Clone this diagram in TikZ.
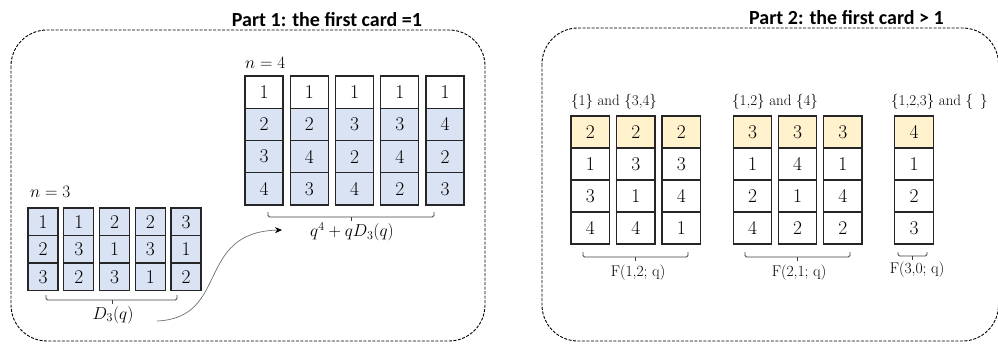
\documentclass[tikz,border=0pt]{standalone}
\usepackage{fontspec}
\newcommand{\cardfont}{\rmfamily}
\newfontfamily\titlefont{Carlito}
\usetikzlibrary{arrows.meta}
\definecolor{cardblue}{HTML}{DAE3F3}
\definecolor{cardyellow}{HTML}{FFF2CC}
\definecolor{edgecol}{HTML}{262626}
\definecolor{bracecol}{HTML}{404040}
\definecolor{arrowcol}{HTML}{707070}
\begin{document}
\begin{tikzpicture}[x=1pt,y=-1pt,
  cellbase/.style={draw=edgecol,line width=1.3pt,inner sep=0pt,font=\cardfont\fontsize{19.5}{19.5}\selectfont},
  cellA/.style={cellbase,minimum width=30pt,minimum height=27.5pt,fill=cardblue},
  cellB/.style={cellbase,minimum width=38pt,minimum height=32.25pt},
  cellC/.style={cellbase,minimum width=38.5pt,minimum height=32pt},
  frame/.style={draw=black,line width=0.9pt,dash pattern=on 3pt off 1.5pt,rounded corners=36pt},
  titletext/.style={font=\titlefont\bfseries\fontsize{20}{20}\selectfont,inner sep=0pt},
  mathlabel/.style={font=\fontsize{17.5}{17.5}\selectfont,inner sep=0pt},
  setlabel/.style={font=\cardfont\fontsize{15}{15}\selectfont,inner sep=0pt,anchor=west},
  flabel/.style={font=\cardfont\fontsize{15.5}{15.5}\selectfont,inner sep=0pt},
  bracket/.style={draw=bracecol,line width=0.8pt,rounded corners=1.5pt},
  curvearrow/.style={draw=arrowcol,line width=0.7pt,-{Stealth[length=7pt,width=6pt,color=black]}}
]
\useasboundingbox (0,0) rectangle (998,343);

% frames
\draw[frame] (11,30) rectangle (485,341);
\draw[frame] (542,28) rectangle (998.5,341);

% titles
\node[titletext] (t1) at (327,19.5) {Part 1: the first card =1};
\node[titletext] (t2) at (846.5,17.5) {Part 2: the first card > 1};

% n = 3
\node[mathlabel,anchor=west] (n3) at (30,192) {$n=3$};
\foreach \col [count=\i] in {{1,2,3},{1,3,2},{2,1,3},{2,3,1},{3,1,2}}{
  \foreach \v [count=\j] in \col{
    \node[cellA] (p3-\i-\j) at ({43+(\i-1)*35.75},{208+27.5*(\j-0.5)}) {\v};
  }
}
\draw[bracket] (46,295) -- (46,300) -- (177,300) -- (177,295);
\draw[bracket] (112,300) -- (112,304);
\node[mathlabel] (d3) at (113,315) {$D_3(q)$};

% n = 4
\node[mathlabel,anchor=west] (n4) at (245,63) {$n=4$};
\foreach \col [count=\i] in {{1,2,3,4},{1,2,4,3},{1,3,2,4},{1,3,4,2},{1,4,2,3}}{
  \foreach \v [count=\j] in \col{
    \ifnum\j=1
      \node[cellB,fill=white] (p4-\i-\j) at ({264+(\i-1)*45.25},{76+32.25*(\j-0.5)}) {\v};
    \else
      \node[cellB,fill=cardblue] (p4-\i-\j) at ({264+(\i-1)*45.25},{76+32.25*(\j-0.5)}) {\v};
    \fi
  }
}
\draw[bracket] (268,212) -- (268,217) -- (434,217) -- (434,212);
\draw[bracket] (351,217) -- (351,221);
\node[mathlabel] (q4) at (352,232) {$q^4+qD_3(q)$};

% arrow
\coordinate (arrS) at (157,321);
\coordinate (arrE) at (282,230);
\draw[curvearrow] (arrS) .. controls (230,318) and (195,232) .. (arrE);

% Part 2
\node[setlabel] (s1) at (571,102) {\{1\} and \{3,4\}};
\node[setlabel] (s2) at (732,102) {\{1,2\} and \{4\}};
\node[setlabel] (s3) at (891,102) {\{1,2,3\} and \{\,\ \}};
\foreach \cx/\col [count=\i] in {590.25/{2,1,3,4},635.75/{2,3,1,4},681.25/{2,3,4,1},752.5/{3,1,2,4},797.5/{3,4,1,2},842.75/{3,1,4,2},914/{4,1,2,3}}{
  \foreach \v [count=\j] in \col{
    \ifnum\j=1
      \node[cellC,fill=cardyellow] (r\i-\j) at (\cx,{116+32*(\j-0.5)}) {\v};
    \else
      \node[cellC,fill=white] (r\i-\j) at (\cx,{116+32*(\j-0.5)}) {\v};
    \fi
  }
}
\draw[bracket] (583,252) -- (583,257) -- (688,257) -- (688,252);
\draw[bracket] (635,257) -- (635,261);
\node[flabel] (f1) at (638,273) {F(1,2; q)};
\draw[bracket] (745,252) -- (745,257) -- (850,257) -- (850,252);
\draw[bracket] (797,257) -- (797,261);
\node[flabel] (f2) at (799,273) {F(2,1; q)};
\draw[bracket] (898,252) -- (898,256) -- (927,256) -- (927,252);
\draw[bracket] (912,256) -- (912,260);
\node[flabel] (f3) at (917,270) {F(3,0; q)};
\end{tikzpicture}
\end{document}
